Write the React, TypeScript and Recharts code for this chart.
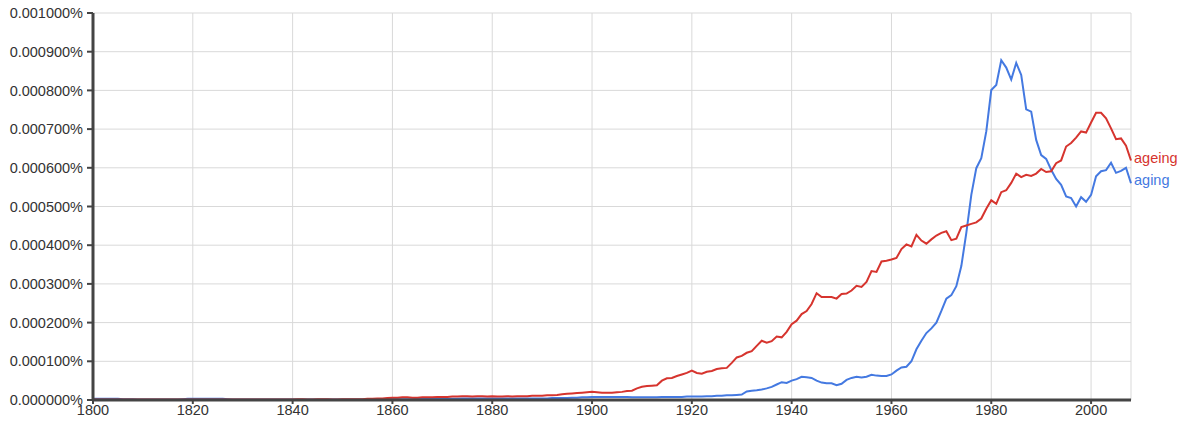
import React from 'react';
import { LineChart, Line, XAxis, YAxis, CartesianGrid } from 'recharts';

// Values in millionths of a percent (e.g. 900 = 0.000900%)
const startYear = 1800;

const ageing = [
  1, 1, 1, 1, 1, 1, 1, 1, 1, 1,
  1, 1, 1, 1, 1, 1, 1, 1, 1, 1,
  1, 1, 1, 1, 1, 1, 1, 1, 1, 1,
  1, 1, 1, 1, 1, 1, 1, 1, 1, 1,
  1, 2, 2, 1, 1, 2, 2, 2, 1, 1,
  2, 2, 2, 2, 2, 3, 3, 4, 4, 5,
  6, 6, 7, 7, 6, 6, 7, 7, 7, 8,
  8, 8, 9, 9, 10, 10, 9, 10, 10, 9,
  10, 9, 9, 10, 9, 10, 10, 10, 11, 11,
  11, 12, 12, 13, 15, 16, 17, 18, 19, 20,
  21, 20, 19, 19, 19, 20, 21, 23, 24, 30,
  34, 36, 37, 38, 50, 56, 57, 62, 66, 70,
  76, 70, 68, 73, 75, 80, 82, 83, 96, 110,
  114, 122, 126, 140, 153, 148, 152, 164, 162, 176,
  196, 205, 222, 230, 248, 276, 266, 266, 266, 262,
  274, 275, 283, 295, 292, 305, 333, 331, 358, 360,
  363, 367, 390, 402, 397, 427, 412, 404, 415, 425,
  432, 436, 413, 417, 447, 451, 455, 459, 469, 494,
  516, 507, 537, 542, 561, 585, 576, 582, 579, 585,
  597, 589, 591, 612, 619, 655, 664, 678, 694, 691,
  717, 742, 742, 728, 702, 674, 676, 657, 619,
];

const aging = [
  3, 3, 3, 3, 3, 3, 2, 2, 2, 1,
  1, 1, 1, 1, 1, 1, 1, 1, 2, 3,
  3, 3, 3, 3, 3, 3, 3, 2, 1, 1,
  1, 1, 1, 1, 1, 1, 1, 1, 1, 1,
  1, 1, 1, 1, 1, 1, 1, 1, 1, 1,
  1, 1, 1, 1, 1, 2, 2, 2, 2, 2,
  2, 2, 2, 2, 2, 3, 3, 3, 3, 3,
  3, 3, 3, 3, 4, 4, 4, 4, 4, 4,
  4, 4, 4, 4, 4, 4, 4, 4, 4, 4,
  4, 4, 5, 5, 5, 5, 6, 6, 7, 7,
  8, 8, 8, 8, 8, 8, 8, 8, 7, 7,
  7, 7, 7, 7, 8, 8, 8, 8, 8, 9,
  9, 9, 9, 10, 10, 11, 11, 12, 12, 13,
  14, 22, 24, 25, 27, 30, 34, 40, 46, 44,
  50, 54, 60, 59, 57, 50, 45, 43, 43, 38,
  42, 52, 57, 60, 58, 60, 65, 63, 62, 62,
  66, 76, 84, 86, 100, 131, 153, 173, 185, 200,
  230, 262, 271, 294, 346, 432, 530, 599, 625, 694,
  801, 814, 878, 859, 828, 871, 840, 751, 745, 672,
  633, 623, 595, 571, 556, 526, 522, 500, 524, 512,
  530, 578, 591, 594, 613, 587, 592, 600, 560,
];

const xTicks = [1800, 1820, 1840, 1860, 1880, 1900, 1920, 1940, 1960, 1980, 2000];
const yTicks = [0, 100, 200, 300, 400, 500, 600, 700, 800, 900, 1000];

const RED = '#d6342e';
const BLUE = '#4479e1';
const FONT = 'Arial, "Liberation Sans", Helvetica, sans-serif';
const FS = 14.5;

const data = ageing.map((v, i) => ({
  year: startYear + i,
  ageing: v,
  aging: aging[i],
}));

const lastIndex = data.length - 1;

const endLabel = (text: string, color: string, dy: number) => (props: any) => {
  const { x, y, index } = props;
  if (index !== lastIndex) return null;
  return (
    <text x={x + 3} y={y + dy} fill={color} fontSize={FS} fontFamily={FONT}>
      {text}
    </text>
  );
};

const fmtY = (v: number) => (v / 1e6).toFixed(6) + '%';

export default function App() {
  return (
    <div style={{ position: 'absolute', left: 0, top: 0, fontFamily: FONT }}>
      <LineChart
        width={1187}
        height={433}
        data={data}
        margin={{ top: 13, right: 56, bottom: 0, left: 0 }}
      >
        <CartesianGrid stroke="#d9d9d9" strokeWidth={1} />
        <XAxis
          dataKey="year"
          type="number"
          domain={[1800, 2008]}
          ticks={xTicks}
          height={33}
          tickSize={4}
          tickMargin={1}
          axisLine={{ stroke: '#444', strokeWidth: 3 }}
          tickLine={{ stroke: '#444', strokeWidth: 2 }}
          tick={{ fontSize: FS, fill: '#333', fontFamily: FONT }}
          interval={0}
        />
        <YAxis
          type="number"
          domain={[0, 1000]}
          ticks={yTicks}
          width={93}
          tickSize={6}
          tickMargin={4}
          tickFormatter={fmtY}
          axisLine={{ stroke: '#444', strokeWidth: 3 }}
          tickLine={{ stroke: '#444', strokeWidth: 2 }}
          tick={{ fontSize: FS, fill: '#333', fontFamily: FONT }}
          interval={0}
        />
        <Line
          type="linear"
          dataKey="aging"
          stroke={BLUE}
          strokeWidth={2}
          dot={false}
          isAnimationActive={false}
          label={endLabel('aging', BLUE, 2)}
        />
        <Line
          type="linear"
          dataKey="ageing"
          stroke={RED}
          strokeWidth={2}
          dot={false}
          isAnimationActive={false}
          label={endLabel('ageing', RED, 3)}
        />
      </LineChart>
    </div>
  );
}
